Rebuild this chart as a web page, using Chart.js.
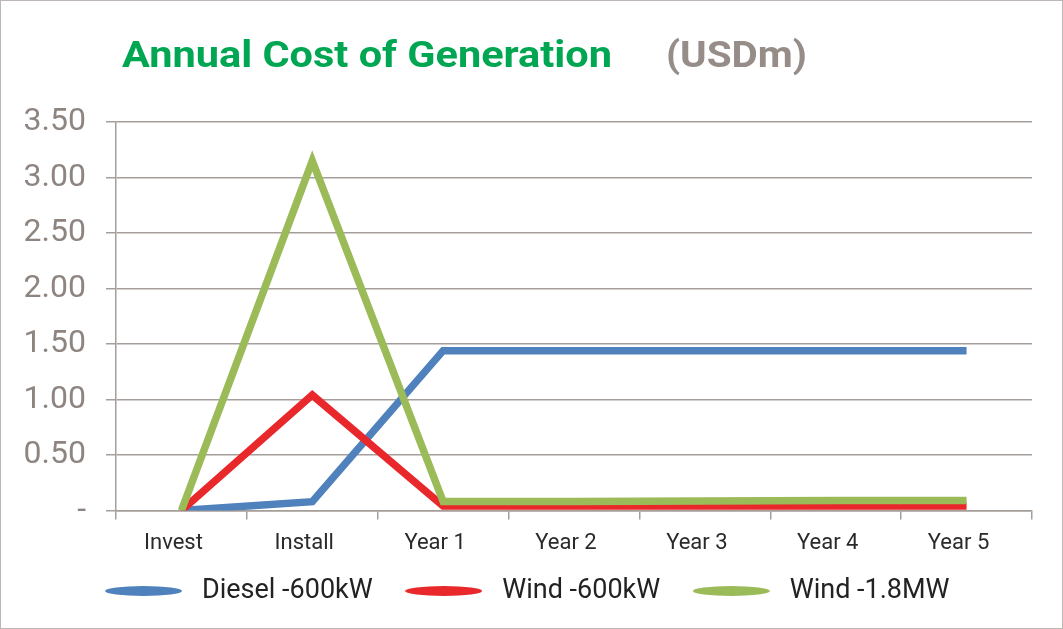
<!DOCTYPE html>
<html><head><meta charset="utf-8">
<script src="https://cdn.jsdelivr.net/npm/chart.js@4/dist/chart.umd.min.js"></script>
<style>
html,body{margin:0;padding:0;background:#fff;}
#wrap{position:absolute;left:0;top:0;width:1061px;height:627px;border:1px solid #bcb7b4;background:#fff;}
</style></head><body>
<div id="wrap"><canvas id="c"></canvas></div>
<script>
const titleMain = 'Annual Cost of Generation';
const titleUnit = '(USDm)';
const categories = ['Invest', 'Install', 'Year 1', 'Year 2', 'Year 3', 'Year 4', 'Year 5'];
const seriesNames = ['Diesel -600kW', 'Wind -600kW', 'Wind -1.8MW'];
const dieselValues = [0, 0.08, 1.44, 1.44, 1.44, 1.44, 1.44];
const wind600Values = [0, 1.04, 0.04, 0.04, 0.04, 0.04, 0.04];
const wind18Values = [0, 3.15, 0.08, 0.08, 0.085, 0.09, 0.09];
const yTickValues = [0, 0.5, 1, 1.5, 2, 2.5, 3, 3.5];
const seriesColors = ['#4f81bd', '#e8282b', '#9bbb59'];

const gridColor = '#a59e9a';

function fitText(ctx, text, x, y, width) {
  const w = ctx.measureText(text).width;
  ctx.save();
  ctx.translate(x, y);
  ctx.scale(width / w, 1);
  ctx.fillText(text, 0, 0);
  ctx.restore();
}

const titlePlugin = {
  id: 'twoToneTitle',
  afterLayout(chart) {
    const xs = chart.scales.x;
    xs.bottom = xs.top + 60;
  },
  afterDraw(chart) {
    const ctx = chart.ctx;
    ctx.save();
    ctx.textBaseline = 'alphabetic';
    ctx.textAlign = 'left';
    ctx.font = 'bold 37px Roboto, sans-serif';
    ctx.fillStyle = '#00a651';
    fitText(ctx, titleMain, 121, 66, 490);
    ctx.fillStyle = '#968d88';
    fitText(ctx, titleUnit, 665, 66, 141);
    ctx.restore();
  }
};

function pill(color) {
  const c = document.createElement('canvas');
  c.width = 77; c.height = 10;
  const g = c.getContext('2d');
  g.fillStyle = color;
  g.beginPath();
  g.ellipse(38.5, 5, 38.5, 5, 0, 0, Math.PI * 2);
  g.fill();
  return c;
}

const mk = (i, data, order) => ({
  label: seriesNames[i], data, order,
  borderColor: seriesColors[i], backgroundColor: seriesColors[i],
  borderWidth: 7.5, pointRadius: 0, pointHoverRadius: 0,
  pointStyle: pill(seriesColors[i]),
  tension: 0, borderJoinStyle: 'miter', borderCapStyle: 'butt', fill: false
});

new Chart(document.getElementById('c'), {
  type: 'line',
  data: {
    labels: categories,
    datasets: [
      mk(0, dieselValues, 2),
      mk(1, wind600Values, 1),
      mk(2, wind18Values, 0)
    ]
  },
  plugins: [titlePlugin],
  options: {
    responsive: true,
    maintainAspectRatio: false,
    animation: false,
    events: [],
    layout: { padding: { left: 15, right: 30, top: 121, bottom: 13.5 } },
    plugins: {
      tooltip: { enabled: false },
      title: { display: false },
      legend: {
        position: 'bottom',
        labels: {
          sort: (a, b) => a.datasetIndex - b.datasetIndex,
          usePointStyle: true,
          pointStyleWidth: 90,
          boxHeight: 27,
          padding: 26,
          color: '#222222',
          font: { family: 'Roboto, sans-serif', size: 27 }
        }
      }
    },
    scales: {
      x: {
        offset: true,
        afterFit: (s) => { s.height = 41; },
        grid: { display: true, drawOnChartArea: false, offset: true, color: gridColor, lineWidth: 1.5, tickLength: 9 },
        border: { display: true, color: gridColor, width: 1.5 },
        ticks: { color: '#2a2a2a', padding: 11, labelOffset: -8, font: { family: 'Roboto, sans-serif', size: 22 }, maxRotation: 0, autoSkip: false }
      },
      y: {
        min: 0, max: 3.5,
        afterFit: (s) => { s.width = 100; },
        afterBuildTicks: (s) => { s.ticks = yTickValues.map(v => ({ value: v })); },
        grid: { color: gridColor, lineWidth: 1.5, tickLength: 10 },
        border: { display: true, color: gridColor, width: 1.5 },
        ticks: {
          color: '#8e8580', padding: 20,
          font: { family: 'Roboto, sans-serif', size: 32 },
          callback: (v) => v === 0 ? '-' : Number(v).toFixed(2)
        }
      }
    }
  }
});
</script>
</body></html>
